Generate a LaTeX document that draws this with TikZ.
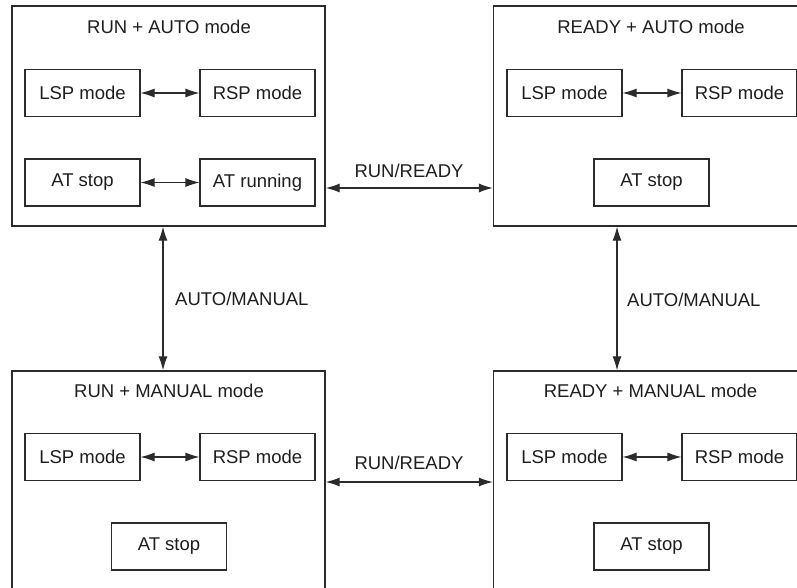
\documentclass[tikz,border=0pt]{standalone}
\usepackage{fontspec}
\setmainfont{Liberation Sans}
\usepackage{xcolor}
\definecolor{linec}{HTML}{2B2B2B}
\definecolor{textc}{HTML}{1E1E1E}
\usetikzlibrary{arrows.meta,positioning}
\tikzset{
  >={Latex[length=14pt,width=9pt]},
  bigbox/.style={draw=linec,line width=1.3pt,minimum width=313pt,minimum height=220pt,inner sep=0pt},
  modebox/.style={draw=linec,line width=1.1pt,fill=white,minimum width=115pt,minimum height=47pt,inner sep=0pt,font=\fontsize{18.5}{21}\selectfont,text=textc},
  ttl/.style={font=\fontsize{18.5}{21}\selectfont,text=textc,inner sep=0pt},
  lbl/.style={font=\fontsize{18.5}{21}\selectfont,text=textc,inner sep=0pt},
  lk/.style={<->,draw=linec,line width=1.1pt},
}

\begin{document}
\begin{tikzpicture}[x=1pt,y=-1pt]
  \useasboundingbox (0,0) rectangle (797,588);
  \clip (0,0) rectangle (797,588);
  % the four operating states
  \node[bigbox] (runauto) at (168.5,116) {};
  \node[bigbox] (rdyauto) at (650,116) {};
  \node[bigbox] (runman) at (168.5,481) {};
  \node[bigbox] (rdyman) at (650,481) {};
  \node[ttl] (t1) at (169,27) {RUN + AUTO mode};
  \node[ttl] (t2) at (651,27) {READY + AUTO mode};
  \node[ttl] (t3) at (169,391) {RUN + MANUAL mode};
  \node[ttl] (t4) at (650.5,391) {READY + MANUAL mode};
  % RUN + AUTO
  \node[modebox] (lsp1) at (82.5,93) {LSP mode};
  \node[modebox] (rsp1) at (257.5,93) {RSP mode};
  \node[modebox] (ats1) at (82.5,182.5) {AT stop};
  \node[modebox] (atr1) at (257.5,182.5) {AT running};
  % READY + AUTO
  \node[modebox] (lsp2) at (564.5,93) {LSP mode};
  \node[modebox] (rsp2) at (739.5,93) {RSP mode};
  \node[modebox] (ats2) at (651.5,182.5) {AT stop};
  % RUN + MANUAL
  \node[modebox] (lsp3) at (82.5,457) {LSP mode};
  \node[modebox] (rsp3) at (257.5,457) {RSP mode};
  \node[modebox] (ats3) at (169,546.5) {AT stop};
  % READY + MANUAL
  \node[modebox] (lsp4) at (564.5,457) {LSP mode};
  \node[modebox] (rsp4) at (739.5,457) {RSP mode};
  \node[modebox] (ats4) at (651.5,546.5) {AT stop};
  \foreach \i in {1,2,3,4} \draw[lk] (lsp\i.east) -- (rsp\i.west);
  \draw[lk] (ats1.east) -- (atr1.west);
  % transitions
  \draw[lk] ([yshift=-72pt]runauto.east) -- ([yshift=-72pt]rdyauto.west);
  \draw[lk] ([yshift=-1pt]runman.east) -- ([yshift=-1pt]rdyman.west);
  \draw[lk] ([xshift=-5.5pt]runauto.south) -- ([xshift=-5.5pt]runman.north);
  \draw[lk] ([xshift=-33pt]rdyauto.south) -- ([xshift=-33pt]rdyman.north);
  \node[lbl] (sw1) at (409,171) {RUN/READY};
  \node[lbl] (sw2) at (409,463) {RUN/READY};
  \node[lbl,anchor=west] (sw3) at (175,299) {AUTO/MANUAL};
  \node[lbl,anchor=west] (sw4) at (627,300) {AUTO/MANUAL};
\end{tikzpicture}
\end{document}
